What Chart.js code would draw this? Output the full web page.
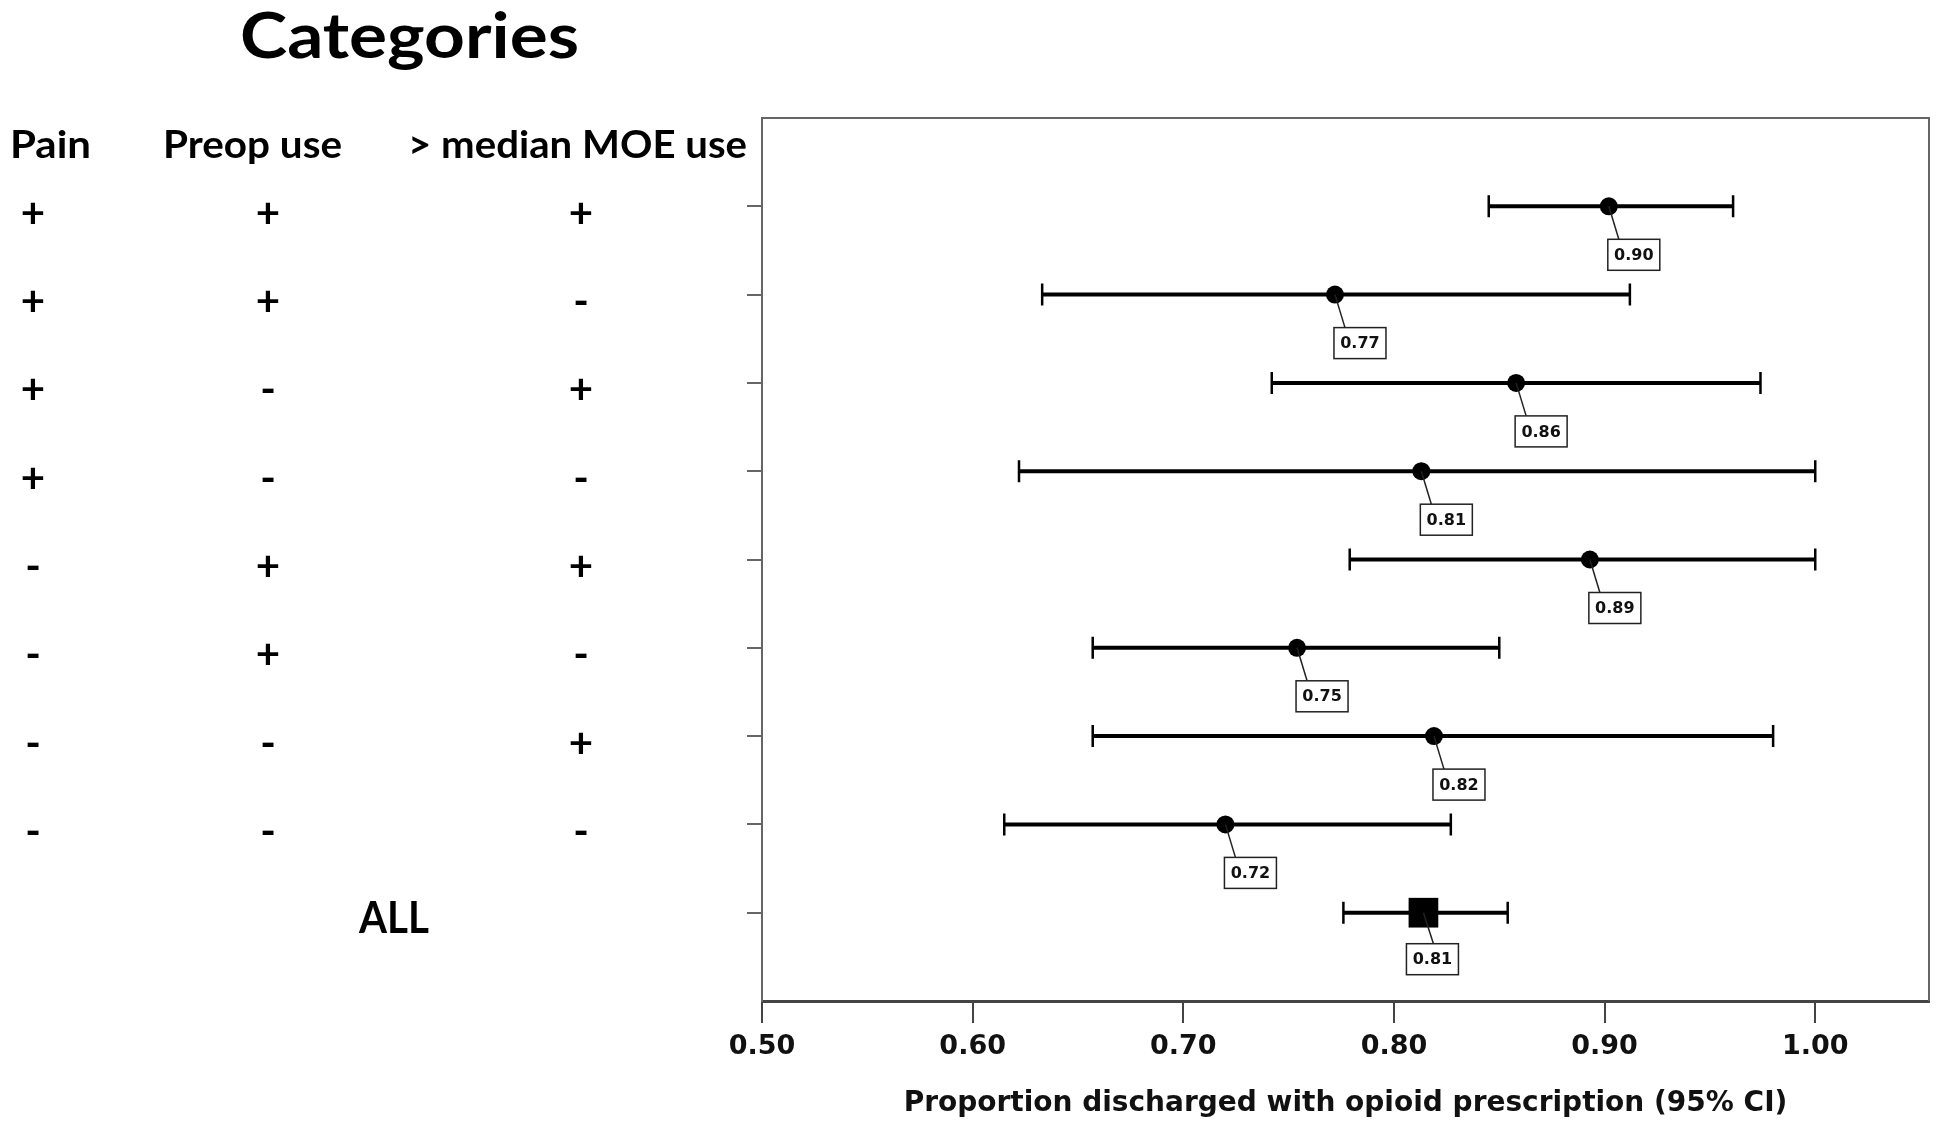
<!DOCTYPE html>
<html><head><meta charset="utf-8">
<script src="https://cdn.jsdelivr.net/npm/chart.js@4.4.0/dist/chart.umd.min.js"></script>
<style>html,body{margin:0;padding:0;background:#fff;overflow:hidden}#wrap{width:1950px;height:1133px}</style>
</head><body><div id="wrap"><canvas id="c" width="1950" height="1133"></canvas></div>
<script>
// ---------- data ----------
const tableTitle = 'Categories';
const columnHeaders = ['Pain', 'Preop use', '> median MOE use'];
const painCol  = ['+', '+', '+', '+', '-', '-', '-', '-'];
const preopCol = ['+', '+', '-', '-', '+', '+', '-', '-'];
const moeCol   = ['+', '-', '+', '-', '+', '-', '+', '-'];
const overallLabel = 'ALL';
const estimates = [0.902, 0.772, 0.858, 0.813, 0.893, 0.754, 0.819, 0.720, 0.814];
const lowerCI   = [0.845, 0.633, 0.742, 0.622, 0.779, 0.657, 0.657, 0.615, 0.776];
const upperCI   = [0.961, 0.912, 0.974, 1.000, 1.000, 0.850, 0.980, 0.827, 0.854];
const xTicks = [0.50, 0.60, 0.70, 0.80, 0.90, 1.00];
const xAxisTitle = 'Proportion discharged with opioid prescription (95% CI)';

// ---------- drawing ----------
const lastIdx = estimates.length - 1;
const tableFont = 'Lato, "Open Sans", sans-serif';

function fitText(ctx, text, x, y, font, targetW, align) {
  ctx.save();
  ctx.font = font;
  const m = ctx.measureText(text).width;
  const s = targetW ? targetW / m : 1;
  ctx.translate(x, y);
  ctx.scale(s, 1);
  ctx.textAlign = align || 'left';
  ctx.fillText(text, 0, 0);
  ctx.restore();
}

const forestPlugin = {
  id: 'forest',
  beforeDatasetsDraw(chart) {
    const { ctx, scales: { x, y } } = chart;
    ctx.save();
    ctx.strokeStyle = '#000';
    estimates.forEach((v, i) => {
      const py = y.getPixelForValue(i + 1);
      const x1 = x.getPixelForValue(lowerCI[i]);
      const x2 = x.getPixelForValue(upperCI[i]);
      ctx.lineWidth = 4;
      ctx.beginPath(); ctx.moveTo(x1, py); ctx.lineTo(x2, py); ctx.stroke();
      ctx.lineWidth = 2.5;
      ctx.beginPath();
      ctx.moveTo(x1, py - 11); ctx.lineTo(x1, py + 11);
      ctx.moveTo(x2, py - 11); ctx.lineTo(x2, py + 11);
      ctx.stroke();
    });
    ctx.restore();
  },
  afterDatasetsDraw(chart) {
    const { ctx, chartArea: a, scales: { x, y } } = chart;
    ctx.save();
    // value labels
    estimates.forEach((v, i) => {
      const px = x.getPixelForValue(v);
      const py = y.getPixelForValue(i + 1);
      const bw = 52, bh = 31;
      const bl = i === lastIdx ? px - 17 : px - 1;
      const bt = py + (i === lastIdx ? 31 : 33);
      ctx.strokeStyle = '#222';
      ctx.lineWidth = 1.5;
      ctx.beginPath(); ctx.moveTo(px, py); ctx.lineTo(px + 10, bt); ctx.stroke();
      ctx.fillStyle = '#fff';
      ctx.fillRect(bl, bt, bw, bh);
      ctx.strokeRect(bl, bt, bw, bh);
      ctx.fillStyle = '#111';
      ctx.font = 'bold 16px "DejaVu Sans", sans-serif';
      ctx.textAlign = 'center';
      ctx.textBaseline = 'middle';
      ctx.fillText(v.toFixed(2), bl + bw / 2, bt + bh / 2 + 1);
    });
    // frame top/right
    ctx.strokeStyle = '#666';
    ctx.lineWidth = 2;
    ctx.beginPath();
    ctx.moveTo(a.left, a.top); ctx.lineTo(a.right, a.top); ctx.lineTo(a.right, a.bottom);
    ctx.stroke();
    ctx.restore();
  },
  afterDraw(chart) {
    const { ctx, scales: { y } } = chart;
    ctx.save();
    ctx.fillStyle = '#000';
    ctx.textBaseline = 'alphabetic';
    fitText(ctx, tableTitle, 240, 58, 'bold 63px ' + tableFont, 339, 'left');
    const hdrX = [10, 163, 408], hdrW = [81, 179, 339];
    columnHeaders.forEach((h, k) => fitText(ctx, h, hdrX[k], 158, 'bold 38px ' + tableFont, hdrW[k], 'left'));
    const colX = [33, 268, 581];
    ctx.textBaseline = 'middle';
    [painCol, preopCol, moeCol].forEach((col, k) => {
      col.forEach((s, i) => {
        const py = y.getPixelForValue(i + 1) + 8;
        fitText(ctx, s, colX[k], py, 'bold 42px ' + tableFont, 0, 'center');
      });
    });
    fitText(ctx, overallLabel, 394, y.getPixelForValue(estimates.length) + 6, 'bold 43px ' + tableFont, 70, 'center');
    ctx.restore();
  }
};

const tickFont = { family: '"DejaVu Sans", sans-serif', weight: 'bold', size: 27 };
const titleFont = { family: '"DejaVu Sans", sans-serif', weight: 'bold', size: 28 };

new Chart(document.getElementById('c'), {
  type: 'scatter',
  data: {
    datasets: [{
      data: estimates.map((v, i) => ({ x: v, y: i + 1 })),
      pointStyle: estimates.map((v, i) => i === lastIdx ? 'rect' : 'circle'),
      pointRadius: estimates.map((v, i) => i === lastIdx ? 21 : 9),
      pointHoverRadius: estimates.map((v, i) => i === lastIdx ? 21 : 9),
      backgroundColor: '#000',
      borderColor: '#000',
      borderWidth: 0
    }]
  },
  options: {
    responsive: false,
    animation: false,
    devicePixelRatio: 1,
    events: [],
    layout: { padding: { left: 744, top: 118, right: 12, bottom: 0 } },
    plugins: { legend: { display: false }, tooltip: { enabled: false } },
    scales: {
      x: {
        type: 'linear', position: 'bottom', min: 0.5, max: 1.054,
        afterBuildTicks: s => { s.ticks = xTicks.map(v => ({ value: v })); },
        afterFit: s => { s.height = 132; },
        grid: { drawOnChartArea: false, drawTicks: true, tickLength: 22, color: '#444', lineWidth: 2 },
        border: { display: true, color: '#444', width: 3 },
        ticks: { callback: v => Number(v).toFixed(2), font: tickFont, color: '#111', padding: 8, maxRotation: 0, autoSkip: false },
        title: { display: true, text: xAxisTitle, font: titleFont, color: '#111', padding: { top: 0, bottom: 12 } }
      },
      y: {
        type: 'linear', min: 0, max: 10, reverse: true,
        afterBuildTicks: s => { s.ticks = estimates.map((v, i) => ({ value: i + 1 })); },
        afterFit: s => { s.width = 18; },
        grid: { drawOnChartArea: false, drawTicks: true, tickLength: 15, color: '#666', lineWidth: 2 },
        border: { display: true, color: '#666', width: 2 },
        ticks: { display: false }
      }
    }
  },
  plugins: [forestPlugin]
});
</script>
</body></html>
